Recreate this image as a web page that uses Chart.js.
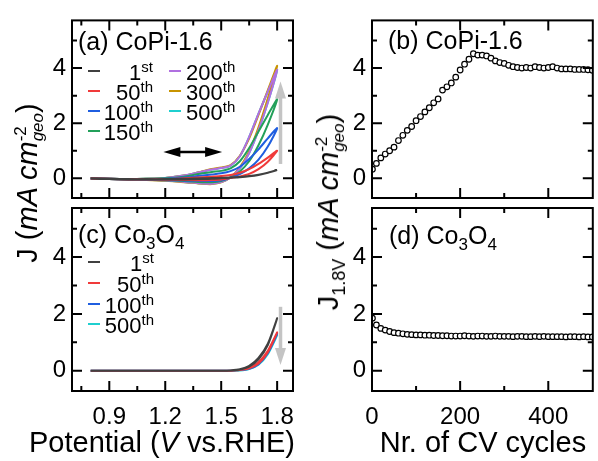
<!DOCTYPE html>
<html>
<head>
<meta charset="utf-8">
<script src="https://cdn.jsdelivr.net/npm/chart.js@4.4.0/dist/chart.umd.min.js"></script>
<style>
  body { margin: 0; background: #fff; }
  #wrap { position: relative; width: 598px; height: 461px; overflow: hidden;
          font-family: "Liberation Sans", Arial, sans-serif; color: #000; }
  canvas { position: absolute; left: 0; top: 0; }
  .txt { position: absolute; white-space: nowrap; }
  .panel { font-size: 25px; line-height: 25px; }
  .panel sub { font-size: 17px; vertical-align: baseline; position: relative; top: 6px; }
  .legline { position: absolute; width: 12px; height: 2px; }
  .legtxt { position: absolute; font-size: 22px; line-height: 22px; white-space: nowrap; }
  .legtxt sup { font-size: 15px; vertical-align: baseline; position: relative; top: -8px; }
  .axt { font-size: 29px; line-height: 29px; }
  .rot { transform: translate(-50%, -50%) rotate(-90deg); }
  .ss { display: inline-block; font-size: 17px; line-height: 17px; vertical-align: -6px; text-align: left; }
  .ss span { display: block; }
  .sub18 { font-size: 18px; position: relative; top: 7px; }
</style>
</head>
<body>
<div id="wrap">
  <canvas id="chartA" width="598" height="461"></canvas>
  <canvas id="chartB" width="598" height="461"></canvas>
  <canvas id="chartC" width="598" height="461"></canvas>
  <canvas id="chartD" width="598" height="461"></canvas>

  <div class="txt panel" style="left:78px;top:29px">(a) CoPi-1.6</div>
  <div class="txt panel" style="left:388px;top:28px">(b) CoPi-1.6</div>
  <div class="txt panel" style="left:78px;top:222px">(c) Co<sub>3</sub>O<sub>4</sub></div>
  <div class="txt panel" style="left:389px;top:223px">(d) Co<sub>3</sub>O<sub>4</sub></div>

  <div class="txt axt rot" style="left:29px;top:183px">J (<i>mA cm</i><span class="ss"><span>-2</span><span><i>geo</i></span></span>)</div>
  <div class="txt axt rot" style="left:330px;top:212px">J<span class="sub18">1.8V</span> (<i>mA cm</i><span class="ss"><span>-2</span><span><i>geo</i></span></span>)</div>
  <div class="txt axt" style="left:-38px;width:400px;text-align:center;top:428px">Potential (<i>V</i> vs.RHE)</div>
  <div class="txt axt" style="left:283px;width:400px;text-align:center;top:428px">Nr. of CV cycles</div>
</div>

<script>
// CV scan: forward 0.8 -> 1.8 V, then back to 0.8 V
const potentialLoop = [0.8, 0.9, 1.0, 1.1, 1.2, 1.3, 1.35, 1.4, 1.45, 1.5, 1.55, 1.6, 1.65, 1.7, 1.75, 1.8,
                       1.75, 1.7, 1.65, 1.6, 1.55, 1.5, 1.45, 1.4, 1.3, 1.2, 1.1, 1.0, 0.9, 0.8];

// (a) CoPi-1.6 current densities (mA cm-2) along potentialLoop
const copi1st   = [0, -0.02, -0.03, -0.03, -0.03, -0.02, -0.01, 0, 0.01, 0.02, 0.03, 0.05, 0.08, 0.13, 0.2, 0.3,
                   0.2, 0.12, 0.07, 0.04, 0.02, 0, -0.02, -0.03, -0.04, -0.04, -0.04, -0.04, -0.03, -0.02];
const copi50th  = [0, -0.02, -0.03, -0.03, -0.03, 0, 0.02, 0.04, 0.06, 0.08, 0.12, 0.2, 0.33, 0.52, 0.75, 1.0,
                   0.6, 0.33, 0.16, 0.07, 0.01, -0.04, -0.06, -0.07, -0.06, -0.05, -0.04, -0.04, -0.03, -0.02];
const copi100th = [0, -0.02, -0.03, -0.03, -0.02, 0.03, 0.06, 0.1, 0.14, 0.18, 0.26, 0.42, 0.7, 1.05, 1.45, 1.82,
                   1.15, 0.68, 0.36, 0.15, 0.02, -0.07, -0.1, -0.1, -0.08, -0.06, -0.05, -0.04, -0.03, -0.02];
const copi150th = [0, -0.02, -0.03, -0.02, 0, 0.06, 0.12, 0.18, 0.23, 0.27, 0.36, 0.62, 1.1, 1.7, 2.3, 2.87,
                   1.95, 1.2, 0.62, 0.25, 0.03, -0.1, -0.14, -0.14, -0.1, -0.07, -0.05, -0.04, -0.03, -0.02];
// 200th lies under the 300th/500th curves in the picture
const copi200th = [0, -0.02, -0.03, -0.02, 0.01, 0.1, 0.17, 0.25, 0.32, 0.37, 0.46, 0.8, 1.5, 2.35, 3.15, 3.94,
                   2.75, 1.75, 0.92, 0.36, 0.03, -0.14, -0.2, -0.19, -0.13, -0.08, -0.06, -0.04, -0.03, -0.02];
const copi300th = [0, -0.02, -0.03, -0.02, 0.01, 0.1, 0.17, 0.26, 0.34, 0.39, 0.48, 0.82, 1.45, 2.3, 3.2, 4.08,
                   2.9, 1.85, 0.98, 0.4, 0.04, -0.15, -0.21, -0.2, -0.14, -0.09, -0.06, -0.04, -0.03, -0.02];
const copi500th = [0, -0.02, -0.03, -0.02, 0.01, 0.1, 0.17, 0.25, 0.32, 0.37, 0.46, 0.8, 1.5, 2.35, 3.15, 3.94,
                   2.75, 1.75, 0.92, 0.36, 0.03, -0.14, -0.2, -0.19, -0.13, -0.08, -0.06, -0.04, -0.03, -0.02];

// (c) Co3O4
const co1st   = [0, 0, 0, 0, 0, 0, 0, 0, 0, 0, 0.01, 0.04, 0.14, 0.4, 0.9, 1.85,
                 0.95, 0.45, 0.17, 0.05, 0.01, 0, 0, 0, 0, 0, 0, 0, 0, 0];
const co50th  = [0, 0, 0, 0, 0, 0, 0, 0, 0, 0, 0, 0.02, 0.08, 0.25, 0.65, 1.35,
                 0.7, 0.3, 0.1, 0.02, 0, 0, 0, 0, 0, 0, 0, 0, 0, 0];
const co100th = [0, 0, 0, 0, 0, 0, 0, 0, 0, 0, 0, 0.02, 0.07, 0.23, 0.62, 1.3,
                 0.65, 0.27, 0.08, 0.02, 0, 0, 0, 0, 0, 0, 0, 0, 0, 0];
const co500th = [0, 0, 0, 0, 0, 0, 0, 0, 0, 0, 0, 0.01, 0.06, 0.21, 0.58, 1.25,
                 0.6, 0.25, 0.07, 0.01, 0, 0, 0, 0, 0, 0, 0, 0, 0, 0];

// (b), (d) current at 1.8 V vs cycle number
const cycles = [1, 10, 20, 30, 40, 50, 60, 70, 80, 90, 100, 110, 120, 130, 140, 150, 160, 170, 180, 190, 200,
                210, 220, 230, 240, 250, 260, 270, 280, 290, 300, 310, 320, 330, 340, 350, 360, 370, 380, 390, 400,
                410, 420, 430, 440, 450, 460, 470, 480, 490, 500];
const copiJ18 = [0.33, 0.54, 0.74, 0.88, 1.0, 1.13, 1.37, 1.56, 1.74, 1.88, 2.09, 2.24, 2.41, 2.56, 2.74, 2.88, 3.2,
                 3.32, 3.46, 3.67, 3.93, 4.14, 4.32, 4.52, 4.47, 4.47, 4.44, 4.36, 4.26, 4.2, 4.17, 4.1, 4.05, 4.02,
                 4.0, 4.02, 4.0, 4.05, 4.02, 4.0, 4.02, 4.05, 4.0, 3.97, 3.97, 3.97, 3.95, 3.95, 3.95, 3.94, 3.92];
const coJ18   = [1.85, 1.61, 1.49, 1.43, 1.38, 1.34, 1.32, 1.3, 1.28, 1.27, 1.26, 1.26, 1.25, 1.25, 1.24, 1.24, 1.23,
                 1.23, 1.22, 1.22, 1.22, 1.23, 1.22, 1.21, 1.22, 1.22, 1.21, 1.21, 1.22, 1.21, 1.21, 1.21, 1.2, 1.21,
                 1.21, 1.2, 1.2, 1.21, 1.2, 1.21, 1.2, 1.2, 1.2, 1.2, 1.19, 1.2, 1.2, 1.19, 1.2, 1.19, 1.19];

// ticks
const potentialTicks = [0.9, 1.2, 1.5, 1.8];
const potentialMinor = [0.75, 1.05, 1.35, 1.65];
const cycleTicks = [0, 200, 400];
const cycleMinor = [100, 300];
const jTicks = [0, 2, 4];
const jMinor = [1, 3, 5];

// legend labels
const copiNames = [['1', 'st'], ['50', 'th'], ['100', 'th'], ['150', 'th'], ['200', 'th'], ['300', 'th'], ['500', 'th']];
const coNames = [['1', 'st'], ['50', 'th'], ['100', 'th'], ['500', 'th']];

const colors = { c1: '#404040', c50: '#f03a3a', c100: '#1f5ee0', c150: '#23a05a', c200: '#b070e0', c300: '#c89400', c500: '#1fcfcf' };

Chart.defaults.font.family = '"Liberation Sans", Arial, sans-serif';
Chart.defaults.color = '#000';

const W = 598, H = 461, Y_W = 40, X_H = 40;
const tickFont = { size: 24 };

function loop(values) {
    return potentialLoop.map((p, i) => ({ x: p, y: values[i] }));
}

function cvSet(label, values, color) {
    return { label: label, data: loop(values), borderColor: color, backgroundColor: color,
             borderWidth: 2, pointRadius: 0, showLine: true, tension: 0.25, fill: false };
}

function markerSet(label, values) {
    return { label: label, data: cycles.map((c, i) => ({ x: c, y: values[i] })),
             showLine: false, pointRadius: 2.8, pointBorderWidth: 1.2,
             pointBorderColor: '#000', pointBackgroundColor: '#fff' };
}

function drawArrow(ctx, x1, y1, x2, y2, a) {
    const ang = Math.atan2(y2 - y1, x2 - x1);
    const ux = Math.cos(ang), uy = Math.sin(ang);
    const head = (hx, hy, dx, dy) => {
        ctx.beginPath();
        ctx.moveTo(hx, hy);
        ctx.lineTo(hx - dx * a.len - dy * a.wid / 2, hy - dy * a.len + dx * a.wid / 2);
        ctx.lineTo(hx - dx * a.len + dy * a.wid / 2, hy - dy * a.len - dx * a.wid / 2);
        ctx.closePath();
        ctx.fill();
    };
    ctx.save();
    ctx.strokeStyle = a.color;
    ctx.fillStyle = a.color;
    ctx.lineWidth = a.shaft;
    ctx.beginPath();
    const s = a.both ? a.len * 0.8 : 0;
    ctx.moveTo(x1 + ux * s, y1 + uy * s);
    ctx.lineTo(x2 - ux * a.len * 0.8, y2 - uy * a.len * 0.8);
    ctx.stroke();
    head(x2, y2, ux, uy);
    if (a.both) head(x1, y1, -ux, -uy);
    ctx.restore();
}

// box frame with inward ticks on all four sides, plus arrows
function framePlugin(xMinor, yMinor, arrows) {
    return {
        id: 'frame',
        afterDatasetsDraw(chart) {
            const { ctx, chartArea: a, scales: { x, y } } = chart;
            ctx.save();
            ctx.strokeStyle = '#000';
            ctx.lineWidth = 2;
            ctx.beginPath();
            const xt = (v, len) => {
                const px = x.getPixelForValue(v);
                ctx.moveTo(px, a.bottom); ctx.lineTo(px, a.bottom - len);
                ctx.moveTo(px, a.top); ctx.lineTo(px, a.top + len);
            };
            const yt = (v, len) => {
                const py = y.getPixelForValue(v);
                ctx.moveTo(a.left, py); ctx.lineTo(a.left + len, py);
                ctx.moveTo(a.right, py); ctx.lineTo(a.right - len, py);
            };
            x.ticks.forEach(t => xt(t.value, 10));
            xMinor.forEach(v => xt(v, 5));
            y.ticks.forEach(t => yt(t.value, 10));
            yMinor.forEach(v => yt(v, 5));
            ctx.stroke();
            ctx.strokeRect(a.left, a.top, a.right - a.left, a.bottom - a.top);
            ctx.restore();
            (arrows || []).forEach(ar => {
                drawArrow(ctx, x.getPixelForValue(ar.from[0]), y.getPixelForValue(ar.from[1]),
                          x.getPixelForValue(ar.to[0]), y.getPixelForValue(ar.to[1]), ar);
            });
        }
    };
}

function makePanel(id, area, xs, datasets, showX, arrows) {
    new Chart(document.getElementById(id), {
        type: 'scatter',
        data: { datasets: datasets },
        options: {
            responsive: false,
            animation: false,
            events: [],
            layout: { padding: { left: area.left - Y_W, right: W - area.right, top: area.top,
                                 bottom: H - area.bottom - (showX ? X_H : 0) } },
            plugins: { legend: { display: false }, tooltip: { enabled: false } },
            scales: {
                x: {
                    type: 'linear', min: xs.min, max: xs.max,
                    grid: { display: false, drawTicks: false }, border: { display: false },
                    afterBuildTicks: s => { s.ticks = xs.major.map(v => ({ value: v })); },
                    afterFit: s => { s.height = showX ? X_H : 0; },
                    ticks: { display: showX, padding: 12, font: tickFont, autoSkip: false, maxRotation: 0,
                             callback: xs.fmt }
                },
                y: {
                    type: 'linear', min: -0.715, max: 5.73,
                    grid: { display: false, drawTicks: false }, border: { display: false },
                    afterBuildTicks: s => { s.ticks = jTicks.map(v => ({ value: v })); },
                    afterFit: s => { s.width = Y_W; },
                    ticks: { padding: 6, font: tickFont, callback: v => String(v) }
                }
            }
        },
        plugins: [framePlugin(xs.minor, jMinor, arrows)]
    });
}

const potAxis = { min: 0.7, max: 1.885, major: potentialTicks, minor: potentialMinor, fmt: v => v.toFixed(1) };
const cycAxis = { min: 0, max: 501, major: cycleTicks, minor: cycleMinor, fmt: v => String(v) };

const grayArrow = { color: '#c4c4c4', shaft: 3.5, len: 17, wid: 11, both: false };

makePanel('chartA', { left: 72, right: 293, top: 15, bottom: 198 }, potAxis, [
    cvSet('1st', copi1st, colors.c1),
    cvSet('50th', copi50th, colors.c50),
    cvSet('100th', copi100th, colors.c100),
    cvSet('150th', copi150th, colors.c150),
    cvSet('200th', copi200th, colors.c200),
    cvSet('300th', copi300th, colors.c300),
    cvSet('500th', copi500th, colors.c500)
], false, [
    Object.assign({ from: [1.818, 0.52], to: [1.818, 3.51] }, grayArrow),
    { from: [1.19, 0.95], to: [1.505, 0.95], color: '#000', shaft: 2.5, len: 17, wid: 10, both: true }
]);

makePanel('chartC', { left: 72, right: 293, top: 208, bottom: 391 }, potAxis, [
    cvSet('1st', co1st, colors.c1),
    cvSet('50th', co50th, colors.c50),
    cvSet('100th', co100th, colors.c100),
    cvSet('500th', co500th, colors.c500)
], true, [
    Object.assign({ from: [1.818, 2.25], to: [1.818, 0.2] }, grayArrow)
]);

makePanel('chartB', { left: 372, right: 594, top: 15, bottom: 198 }, cycAxis, [markerSet('CoPi-1.6', copiJ18)], false);
makePanel('chartD', { left: 372, right: 594, top: 208, bottom: 391 }, cycAxis, [markerSet('Co3O4', coJ18)], true);

// legends (HTML so the ordinal suffixes can be superscripts)
const wrap = document.getElementById('wrap');
function legendItem(lineX, y, color, name, textRight, textLeft) {
    const line = document.createElement('div');
    line.className = 'legline';
    line.style.left = lineX + 'px';
    line.style.top = (y - 1) + 'px';
    line.style.background = color;
    wrap.appendChild(line);
    const t = document.createElement('div');
    t.className = 'legtxt';
    t.innerHTML = name[0] + '<sup>' + name[1] + '</sup>';
    t.style.top = (y - 8.7) + 'px';
    if (textRight != null) t.style.right = (W - textRight) + 'px';
    else t.style.left = textLeft + 'px';
    wrap.appendChild(t);
}
const copiColors = [colors.c1, colors.c50, colors.c100, colors.c150, colors.c200, colors.c300, colors.c500];
const rowsA = [70.7, 90.7, 110.5, 130.7];
copiNames.forEach((n, i) => {
    if (i < 4) legendItem(88, rowsA[i], copiColors[i], n, 153, null);
    else legendItem(169, rowsA[i - 4], copiColors[i], n, null, 186);
});
const coColors = [colors.c1, colors.c50, colors.c100, colors.c500];
const rowsC = [262, 283, 303.5, 324];
coNames.forEach((n, i) => legendItem(88, rowsC[i], coColors[i], n, 154, null));
</script>
</body>
</html>
